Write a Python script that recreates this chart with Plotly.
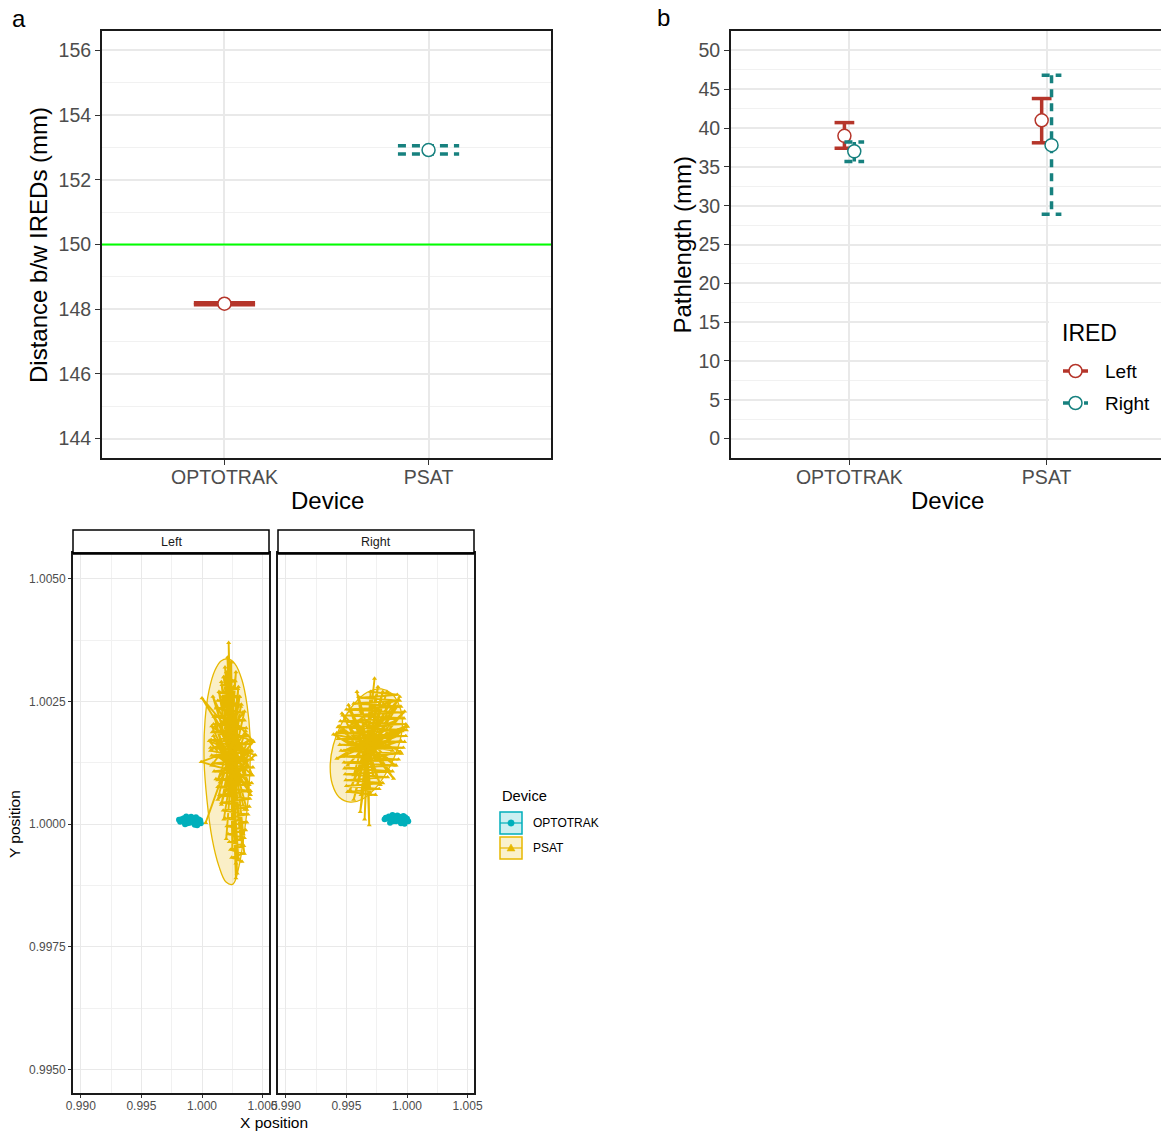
import plotly.graph_objects as go

W, H = 1161, 1131
FONT = "Liberation Sans, Arial, sans-serif"
GREY = "#4D4D4D"
RED = "#B5352A"
TEAL = "#17817F"
OPT_C = "#00AFBB"
PSAT_C = "#E7B800"
DASH = "8px,6px"


def fx(p):
    return p / W


def fy(p):
    return 1 - p / H


# ---------------- data ----------------
devices = ["OPTOTRAK", "PSAT"]

# panel a : distance between IREDs (mm)
dist_mean = [148.17, 152.92]
dist_low = [148.14, 152.80]
dist_high = [148.20, 153.05]
reference_distance = 150

# panel b : pathlength (mm) by IRED
ired = ["Left", "Right"]
path_left_mean = [39.0, 41.0]
path_left_low = [37.4, 38.1]
path_left_high = [40.7, 43.8]
path_right_mean = [37.0, 37.8]
path_right_low = [35.7, 28.9]
path_right_high = [38.2, 46.8]

# panel c : X/Y position traces
left_psat_x = [1.00245, 1.00310, 1.00230, 1.00095, 1.00260, 1.00380, 1.00220, 1.00180, 1.00250, 1.00400,
               1.00240, 1.00120, 1.00270, 1.00330, 1.00250, 1.00070, 1.00230, 1.00220, 1.00235, 1.00420,
               1.00260, 1.00280, 1.00250, 1.00130, 1.00240, 1.00000, 1.00230, 1.00350, 1.00250, 1.00180,
               1.00270, 1.00160, 1.00240, 1.00438, 1.00230, 1.00240, 1.00250, 1.00340, 1.00230, 0.99993,
               1.00240, 1.00300, 1.00260, 1.00370, 1.00220, 1.00100, 1.00250, 1.00290, 1.00240, 1.00415,
               1.00230, 1.00200, 1.00260, 1.00080, 1.00250, 1.00360, 1.00230, 1.00030, 1.00150, 1.00250,
               1.00310, 1.00240, 1.00140, 1.00250, 1.00390, 1.00230, 1.00110, 1.00260, 1.00250, 1.00240,
               1.00280, 1.00230, 1.00424, 1.00250, 1.00160, 1.00240, 1.00060, 1.00250, 1.00350, 1.00240,
               1.00210, 1.00250, 1.00391, 1.00230, 1.00120, 1.00260, 1.00320, 1.00240, 1.00200, 1.00250,
               1.00090, 1.00240, 1.00370, 1.00230, 1.00300, 1.00240, 1.00150, 1.00260, 1.00240, 1.00410,
               1.00230, 1.00130, 1.00250, 1.00260, 1.00240, 1.00190, 1.00250, 1.00340, 1.00230, 1.00080,
               1.00250, 1.00320, 1.00240, 1.00300, 1.00220, 1.00250, 1.00190, 1.00240, 1.00110, 1.00260,
               1.00280, 1.00250, 1.00380, 1.00240, 1.00170, 1.00250, 1.00350, 1.00230, 1.00220, 1.00240,
               1.00180, 1.00275, 1.00165, 1.00295, 1.00150, 1.00310, 1.00130, 1.00325, 1.00115, 1.00335,
               1.00100, 1.00350, 1.00095, 1.00365, 1.00085, 1.00380, 1.00075, 1.00395, 1.00070, 1.00405,
               1.00080, 1.00415, 1.00090, 1.00420, 1.00100, 1.00415, 1.00115, 1.00410, 1.00130, 1.00400,
               1.00145, 1.00395, 1.00160, 1.00390, 1.00175, 1.00380, 1.00190, 1.00370, 1.00205, 1.00360,
               1.00215, 1.00350, 1.00225, 1.00345, 1.00235, 1.00340, 1.00245, 1.00330]
left_psat_y = [1.00150, 1.00260, 1.00120, 1.00180, 1.00090, 1.00140, 1.00200, 1.00300, 1.00170, 1.00060,
               1.00130, 1.00240, 1.00100, 0.99960, 1.00140, 1.00150, 1.00180, 1.00370, 1.00220, 1.00170,
               1.00110, 0.99920, 1.00080, 1.00050, 1.00160, 1.00257, 1.00190, 1.00230, 1.00120, 1.00010,
               1.00150, 1.00290, 1.00100, 1.00141, 1.00160, 1.00330, 1.00200, 0.99980, 1.00110, 1.00127,
               1.00150, 1.00280, 1.00130, 1.00030, 1.00170, 1.00220, 1.00090, 0.99900, 1.00140, 1.00100,
               1.00210, 1.00310, 1.00180, 1.00120, 1.00110, 1.00190, 1.00140, 1.00003, 1.00086, 1.00150,
               1.00010, 1.00120, 1.00270, 1.00170, 1.00080, 1.00130, 1.00200, 1.00100, 0.99950, 1.00160,
               1.00310, 1.00190, 1.00168, 1.00120, 1.00040, 1.00150, 1.00170, 1.00110, 0.99940, 1.00140,
               1.00340, 1.00230, 1.00066, 1.00120, 1.00140, 1.00160, 1.00240, 1.00100, 0.99970, 1.00130,
               1.00260, 1.00180, 1.00120, 1.00090, 0.99930, 1.00150, 1.00190, 1.00280, 1.00120, 1.00150,
               1.00160, 1.00090, 1.00140, 1.00040, 1.00200, 1.00320, 1.00130, 1.00080, 1.00170, 1.00200,
               1.00110, 0.99970, 1.00140, 1.00200, 1.00250, 1.00120, 1.00060, 1.00160, 1.00170, 1.00130,
               0.99890, 1.00100, 1.00170, 1.00150, 1.00260, 1.00120, 1.00030, 1.00140, 1.00300, 1.00160,
               1.00300, 1.00292, 1.00284, 1.00276, 1.00268, 1.00260, 1.00252, 1.00244, 1.00236, 1.00228,
               1.00220, 1.00212, 1.00204, 1.00196, 1.00188, 1.00180, 1.00172, 1.00164, 1.00156, 1.00148,
               1.00140, 1.00132, 1.00124, 1.00116, 1.00108, 1.00100, 1.00092, 1.00084, 1.00076, 1.00068,
               1.00060, 1.00052, 1.00044, 1.00036, 1.00028, 1.00020, 1.00012, 1.00004, 0.99996, 0.99988,
               0.99980, 0.99972, 0.99964, 0.99956, 0.99948, 0.99940, 0.99932, 0.99924]

right_psat_x = [0.99670, 0.99870, 0.99660, 0.99450, 0.99680, 0.99732, 0.99670, 0.99620, 0.99690, 0.99990,
                0.99660, 0.99517, 0.99680, 0.99900, 0.99650, 0.99560, 0.99690, 0.99940, 0.99670, 0.99393,
                0.99680, 0.99688, 0.99670, 0.99800, 0.99660, 1.00005, 0.99680, 0.99530, 0.99670, 0.99600,
                0.99690, 0.99945, 0.99660, 0.99463, 0.99680, 0.99889, 0.99670, 0.99614, 0.99690, 0.99760,
                0.99660, 0.99421, 0.99680, 0.99980, 0.99670, 0.99700, 0.99660, 0.99530, 0.99690, 0.99950,
                0.99670, 0.99587, 0.99680, 0.99780, 0.99660, 0.99480, 0.99690, 0.99835, 0.99670, 0.99560,
                0.99680, 0.99920, 0.99660, 0.99440, 0.99670, 0.99850, 0.99680, 0.99650, 0.99670, 0.99700,
                0.99690, 0.99510, 0.99660, 0.99960, 0.99680, 0.99560, 0.99670, 0.99820, 0.99660, 0.99600,
                0.99690, 0.99880, 0.99670, 0.99500, 0.99680, 0.99740, 0.99660, 0.99720, 0.99670, 0.99620,
                0.99780, 0.99560, 0.99900, 0.99640, 0.99850, 0.99520, 0.99750, 0.99600, 0.99930, 0.99670,
                0.99700, 0.99920, 0.99620, 0.99940, 0.99560, 0.99950, 0.99500, 0.99960, 0.99470, 0.99975,
                0.99450, 0.99990, 0.99430, 0.99995, 0.99420, 0.99990, 0.99430, 0.99980, 0.99445, 0.99970,
                0.99455, 0.99955, 0.99470, 0.99930, 0.99480, 0.99910, 0.99485, 0.99880, 0.99490, 0.99840,
                0.99495, 0.99800, 0.99500, 0.99770, 0.99510, 0.99740]
right_psat_y = [1.00170, 1.00250, 1.00160, 1.00190, 1.00180, 1.00297, 1.00150, 1.00060, 1.00170, 1.00200,
                1.00140, 1.00243, 1.00160, 1.00120, 1.00180, 1.00100, 1.00150, 1.00260, 1.00170, 1.00183,
                1.00140, 0.99998, 1.00120, 1.00270, 1.00160, 1.00199, 1.00170, 1.00070, 1.00150, 1.00260,
                1.00180, 1.00148, 1.00130, 1.00226, 1.00170, 1.00093, 1.00160, 1.00025, 1.00150, 1.00280,
                1.00170, 1.00134, 1.00160, 1.00230, 1.00140, 1.00060, 1.00180, 1.00230, 1.00150, 1.00170,
                1.00160, 1.00270, 1.00140, 1.00080, 1.00170, 1.00150, 1.00160, 1.00270, 1.00150, 1.00050,
                1.00180, 1.00240, 1.00140, 1.00200, 1.00160, 1.00110, 1.00170, 1.00010, 1.00150, 1.00260,
                1.00170, 1.00120, 1.00160, 1.00190, 1.00140, 1.00210, 1.00170, 1.00200, 1.00150, 1.00090,
                1.00170, 1.00150, 1.00160, 1.00170, 1.00150, 1.00220, 1.00170, 1.00100, 1.00160, 1.00230,
                1.00240, 1.00180, 1.00210, 1.00120, 1.00250, 1.00200, 1.00130, 1.00150, 1.00180, 1.00170,
                1.00270, 1.00264, 1.00258, 1.00252, 1.00246, 1.00240, 1.00234, 1.00228, 1.00222, 1.00216,
                1.00210, 1.00204, 1.00198, 1.00192, 1.00186, 1.00180, 1.00174, 1.00168, 1.00162, 1.00156,
                1.00150, 1.00144, 1.00138, 1.00132, 1.00126, 1.00120, 1.00114, 1.00108, 1.00102, 1.00096,
                1.00090, 1.00084, 1.00078, 1.00072, 1.00066, 1.00060]

left_opt_x = [0.99820, 0.99850, 0.99880, 0.99910, 0.99940, 0.99970, 0.99990, 0.99960, 0.99930, 0.99890,
              0.99860, 0.99830, 0.99870, 0.99920, 0.99950, 0.99985, 0.99940, 0.99900, 0.99850, 0.99810]
left_opt_y = [1.00005, 1.00012, 1.00002, 1.00015, 1.00004, 1.00010, 1.00002, 0.99998, 1.00012, 1.00010,
              1.00000, 1.00010, 1.00016, 1.00006, 1.00014, 1.00008, 0.99999, 1.00003, 1.00006, 1.00009]
right_opt_x = [0.99815, 0.99850, 0.99890, 0.99920, 0.99955, 0.99985, 1.00010, 0.99980, 0.99940, 0.99900,
               0.99860, 0.99830, 0.99880, 0.99930, 0.99970, 1.00000, 0.99950, 0.99910, 0.99865, 0.99825]
right_opt_y = [1.00010, 1.00016, 1.00006, 1.00018, 1.00008, 1.00014, 1.00006, 1.00001, 1.00015, 1.00013,
               1.00003, 1.00012, 1.00019, 1.00009, 1.00017, 1.00011, 1.00002, 1.00006, 1.00009, 1.00013]

# confidence ellipses (outline vertices)
left_ell_x = [1.00215, 1.00272, 1.00330, 1.00372, 1.00396, 1.00396, 1.00380, 1.00347, 1.00305, 1.00256,
              1.00198, 1.00140, 1.00083, 1.00041, 1.00017, 1.00025, 1.00058, 1.00107, 1.00157]
left_ell_y = [1.00337, 1.00327, 1.00294, 1.00243, 1.00182, 1.00114, 1.00049, 0.99978, 0.99914, 0.99878,
              0.99882, 0.99914, 0.99971, 1.00049, 1.00131, 1.00212, 1.00273, 1.00314, 1.00333]
right_ell_x = [0.99788, 0.99870, 0.99928, 0.99961, 0.99953, 0.99912, 0.99837, 0.99738, 0.99631, 0.99531,
               0.99440, 0.99383, 0.99366, 0.99391, 0.99457, 0.99556, 0.99672]
right_ell_y = [1.00276, 1.00267, 1.00247, 1.00216, 1.00182, 1.00147, 1.00108, 1.00073, 1.00051, 1.00045,
               1.00055, 1.00082, 1.00120, 1.00161, 1.00204, 1.00243, 1.00269]

# ---------------- figure ----------------
fig = go.Figure()


def errbar(xs, lo, hi, hw):
    X, Y = [], []
    for x, l, h in zip(xs, lo, hi):
        X += [x - hw, x + hw, None, x, x, None, x - hw, x + hw, None]
        Y += [h, h, None, h, l, None, l, l, None]
    return X, Y


pos = [i + 1 for i in range(len(devices))]

# panel a
styles_a = [(RED, "solid"), (TEAL, DASH)]
for i, (c, d) in enumerate(styles_a):
    X, Y = errbar([pos[i]], [dist_low[i]], [dist_high[i]], 0.15)
    fig.add_trace(go.Scatter(x=X, y=Y, mode="lines", line=dict(color=c, width=3.5, dash=d),
                             xaxis="x", yaxis="y", showlegend=False, hoverinfo="skip"))
    fig.add_trace(go.Scatter(x=[pos[i]], y=[dist_mean[i]], mode="markers",
                             marker=dict(symbol="circle", size=13, color="white", line=dict(color=c, width=1.5)),
                             xaxis="x", yaxis="y", showlegend=False))

# panel b
dodge = 0.025
groups_b = [
    (ired[0], path_left_mean, path_left_low, path_left_high, -dodge, RED, "solid"),
    (ired[1], path_right_mean, path_right_low, path_right_high, dodge, TEAL, DASH),
]
for name, m, lo, hi, off, c, d in groups_b:
    xs = [p + off for p in pos]
    X, Y = errbar(xs, lo, hi, 0.05)
    fig.add_trace(go.Scatter(x=X, y=Y, mode="lines", line=dict(color=c, width=3.5, dash=d),
                             xaxis="x2", yaxis="y2", showlegend=False, hoverinfo="skip"))
    fig.add_trace(go.Scatter(x=xs, y=m, mode="markers", name=name,
                             marker=dict(symbol="circle", size=13, color="white", line=dict(color=c, width=1.5)),
                             xaxis="x2", yaxis="y2", showlegend=False))

# panel c
ELL_FILL = "rgba(231,184,0,0.22)"
facets = [
    ("x3", "y3", left_ell_x, left_ell_y, left_psat_x, left_psat_y, left_opt_x, left_opt_y),
    ("x4", "y4", right_ell_x, right_ell_y, right_psat_x, right_psat_y, right_opt_x, right_opt_y),
]
for xa, ya, ex, ey, pxs, pys, oxs, oys in facets:
    fig.add_trace(go.Scatter(x=ex + [ex[0]], y=ey + [ey[0]], mode="lines", fill="toself",
                             fillcolor=ELL_FILL, line=dict(color=PSAT_C, width=1.3, shape="spline"),
                             xaxis=xa, yaxis=ya, showlegend=False, hoverinfo="skip"))
    fig.add_trace(go.Scatter(x=pxs, y=pys, mode="lines+markers", line=dict(color=PSAT_C, width=1.9),
                             marker=dict(symbol="triangle-up", size=4.5, color=PSAT_C),
                             xaxis=xa, yaxis=ya, showlegend=False, name="PSAT"))
    fig.add_trace(go.Scatter(x=oxs, y=oys, mode="lines+markers", line=dict(color=OPT_C, width=2),
                             marker=dict(symbol="circle", size=6, color=OPT_C),
                             xaxis=xa, yaxis=ya, showlegend=False, name="OPTOTRAK"))

# ---------------- axes ----------------
big_tick = dict(family=FONT, size=19.5, color=GREY)
small_tick = dict(family=FONT, size=12, color=GREY)
base = dict(showgrid=True, gridcolor="#E9E9E9", gridwidth=1.8, zeroline=False, ticks="outside",
            tickcolor="#333333", tickwidth=1, showline=True, linecolor="#1A1A1A", fixedrange=True,
            automargin=False)
base_c = dict(base, gridwidth=1.2)
minor_c = dict(showgrid=True, gridcolor="#F1F1F1", gridwidth=1)

y_top, y_bot = 31, 458
c_top, c_bot = 553, 1093
c_xrange = [0.98935, 1.00553]
c_yrange = [0.99452, 1.00553]

fig.update_layout(
    xaxis=dict(domain=[fx(102), fx(551)], range=[0.4, 2.6], tickmode="array", tickvals=pos, ticktext=devices,
               anchor="y", mirror=True, linewidth=2, ticklen=5, tickfont=big_tick, ticklabelstandoff=-4, **base),
    yaxis=dict(domain=[fy(y_bot), fy(y_top)], range=[143.4, 156.6], tick0=144, dtick=2,
               minor=dict(tick0=144, dtick=1, **minor_c), anchor="x", mirror=True, linewidth=2, ticklen=5,
               tickfont=big_tick, **base),
    xaxis2=dict(domain=[fx(731), 1.0], range=[0.4, 2.58], tickmode="array", tickvals=pos, ticktext=devices,
                anchor="y2", mirror=True, linewidth=2, ticklen=5, tickfont=big_tick, ticklabelstandoff=-4, **base),
    yaxis2=dict(domain=[fy(y_bot), fy(y_top)], range=[-2.5, 52.5], tick0=0, dtick=5,
                minor=dict(tick0=0, dtick=2.5, **minor_c), anchor="x2", mirror=False, linewidth=2, ticklen=5,
                tickfont=big_tick, **base),
    xaxis3=dict(domain=[fx(73), fx(269)], range=c_xrange, tick0=0.99, dtick=0.005, tickformat=".3f",
                minor=dict(tick0=0.99, dtick=0.0025, **minor_c), anchor="y3", mirror=True, linewidth=1.8,
                ticklen=3, tickfont=small_tick, ticklabelstandoff=-2, **base_c),
    yaxis3=dict(domain=[fy(c_bot), fy(c_top)], range=c_yrange, tick0=0.995, dtick=0.0025, tickformat=".4f",
                minor=dict(tick0=0.995, dtick=0.00125, **minor_c), anchor="x3", mirror=True, linewidth=1.8,
                ticklen=3, tickfont=small_tick, **base_c),
    xaxis4=dict(domain=[fx(278), fx(474)], range=c_xrange, tick0=0.99, dtick=0.005, tickformat=".3f",
                minor=dict(tick0=0.99, dtick=0.0025, **minor_c), anchor="y4", mirror=True, linewidth=1.8,
                ticklen=3, tickfont=small_tick, ticklabelstandoff=-2, **base_c),
    yaxis4=dict(domain=[fy(c_bot), fy(c_top)], range=c_yrange, tick0=0.995, dtick=0.0025,
                minor=dict(tick0=0.995, dtick=0.00125, **minor_c), anchor="x4", mirror=True, linewidth=1.8,
                showticklabels=False, **{k: v for k, v in base_c.items() if k != "ticks"}, ticks=""),
)

# ---------------- annotations ----------------
ann = []


def text(t, x, y, size, color="black", anchor="center", angle=0):
    ann.append(dict(text=t, x=fx(x), y=fy(y), xref="paper", yref="paper", showarrow=False,
                    xanchor=anchor, yanchor="middle", textangle=angle,
                    font=dict(family=FONT, size=size, color=color)))


text("a", 19, 19, 24)
text("b", 663, 18, 24)
text("Distance b/w IREDs (mm)", 38, 245, 24, angle=-90)
text("Device", 327, 500, 24)
text("Pathlength (mm)", 681.5, 245, 24, angle=-90)
text("Device", 947, 500, 24)
text("Y position", 14, 824, 15.5, angle=-90)
text("X position", 274, 1122, 15.5)
text("Left", 171, 542, 12.5, color="#1A1A1A")
text("Right", 376, 542, 12.5, color="#1A1A1A")
# legend b
text("IRED", 1060, 333, 23, anchor="left")
text(ired[0], 1103, 371, 19, anchor="left")
text(ired[1], 1103, 403, 19, anchor="left")
# legend c
text("Device", 500, 796, 14.7, anchor="left")
text(devices[0], 531, 823, 12, anchor="left")
text(devices[1], 531, 848, 12, anchor="left")

# ---------------- shapes ----------------
shapes = []


def rect(x0, y0, x1, y1, line_color="black", lw=1.5, fill="white"):
    shapes.append(dict(type="rect", xref="paper", yref="paper", x0=fx(x0), x1=fx(x1), y0=fy(y1), y1=fy(y0),
                       line=dict(color=line_color, width=lw), fillcolor=fill, layer="above"))


def seg(x0, y0, x1, y1, color, lw, dash="solid"):
    shapes.append(dict(type="line", xref="paper", yref="paper", x0=fx(x0), x1=fx(x1), y0=fy(y0), y1=fy(y1),
                       line=dict(color=color, width=lw, dash=dash), layer="above"))


def circ(cx, cy, r, line_color, fill, lw=1.5):
    shapes.append(dict(type="circle", xref="paper", yref="paper", x0=fx(cx - r), x1=fx(cx + r),
                       y0=fy(cy + r), y1=fy(cy - r), line=dict(color=line_color, width=lw),
                       fillcolor=fill, layer="above"))


# reference line in panel a
shapes.append(dict(type="line", xref="x domain", x0=0, x1=1, yref="y", y0=reference_distance,
                   y1=reference_distance, line=dict(color="#00FF00", width=2), layer="above"))

# facet strips
rect(73, 530, 269, 553)
rect(278, 530, 474, 553)
seg(73, 553.5, 269, 553.5, "black", 2.5)
seg(278, 553.5, 474, 553.5, "black", 2.5)

# legend b
rect(1049, 313, 1162, 425, line_color="white", lw=0, fill="white")
seg(1063, 371, 1088, 371, RED, 3.5)
circ(1075.5, 371, 6.5, RED, "white")
seg(1063, 403, 1088, 403, TEAL, 3.5, dash="dash")
circ(1075.5, 403, 6.5, TEAL, "white")

# legend c
rect(500, 812, 522, 834, line_color=OPT_C, lw=1.5, fill="rgba(0,175,187,0.2)")
seg(500, 823, 522, 823, OPT_C, 1.2)
circ(511, 823, 3.2, OPT_C, OPT_C, lw=0.5)
rect(500, 837, 522, 859, line_color=PSAT_C, lw=1.5, fill="rgba(231,184,0,0.2)")
seg(500, 848, 522, 848, PSAT_C, 1.2)
shapes.append(dict(type="path", xref="paper", yref="paper",
                   path=f"M {fx(507)} {fy(851)} L {fx(515)} {fy(851)} L {fx(511)} {fy(844)} Z",
                   line=dict(color=PSAT_C, width=0.5), fillcolor=PSAT_C, layer="above"))

fig.update_layout(
    width=W, height=H, margin=dict(l=0, r=0, t=0, b=0),
    paper_bgcolor="white", plot_bgcolor="white",
    showlegend=False, annotations=ann, shapes=shapes,
    font=dict(family=FONT),
)

fig.write_html("out.html")
